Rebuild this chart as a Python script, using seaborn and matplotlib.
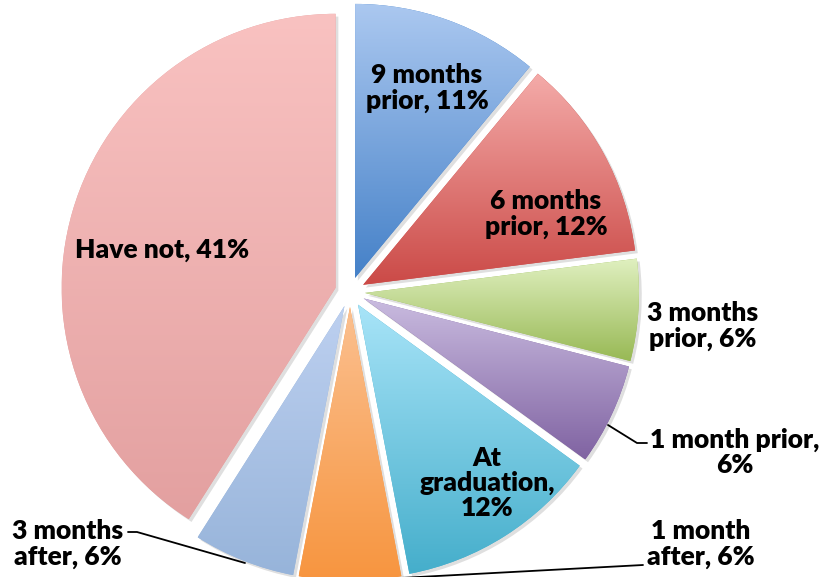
import numpy as np
import matplotlib
matplotlib.use("Agg")
import matplotlib.pyplot as plt
import matplotlib.patheffects as pe
import seaborn as sns

# slices, clockwise from 12 o'clock
categories = ["9 months prior", "6 months prior", "3 months prior", "1 month prior",
              "At graduation", "1 month after", "3 months after", "Have not"]
shares = [11, 12, 6, 6, 12, 6, 6, 41]
slice_labels = ["9 months\nprior, 11%", "6 months\nprior, 12%", "3 months\nprior, 6%",
                "1 month prior,\n6%", "At\ngraduation,\n12%", "1 month\nafter, 6%",
                "3 months\nafter, 6%", "Have not, 41%"]
top_colors = ["#abc8f0", "#f4aba9", "#e0f0c0", "#cabce0", "#a8e4f8", "#fbc090", "#bdd0f0", "#f9c2c1"]
bottom_colors = ["#4581c8", "#cb4a47", "#98b955", "#8063a2", "#45aecb", "#f7953f", "#97b4da", "#e3a0a0"]

sns.set_style("white")
plt.rcParams['font.family'] = ['Lato', 'DejaVu Sans']

W, H = 827, 577
fig = plt.figure(figsize=(W / 100, H / 100), dpi=100)
ax = fig.add_axes([0, 0, 1, 1])

# pie centre / radius in pixel units
cx, cy, R = 350, H - 292, 274
wedges, _ = ax.pie(shares, startangle=90, counterclock=False, center=(cx, cy), radius=R,
                   explode=[15] * len(shares), colors=bottom_colors,
                   wedgeprops=dict(linewidth=0))

# vertical gradient per slice, light at top
grad = np.linspace(0, 1, 256).reshape(-1, 1)
for w, top, bot in zip(wedges, top_colors, bottom_colors):
    w.set_path_effects([pe.SimplePatchShadow(offset=(2, -2), shadow_rgbFace='grey', alpha=0.25),
                        pe.Normal()])
    ext = w.get_path().get_extents()
    cmap = sns.blend_palette([bot, top], as_cmap=True)
    im = ax.imshow(grad, cmap=cmap, extent=(ext.x0, ext.x1, ext.y0, ext.y1),
                   origin='lower', aspect='auto', zorder=w.get_zorder() + 0.1)
    im.set_clip_path(w)

# label positions (pixels from top-left)
label_pos = [(427, 88), (546, 214), (703, 326), (735, 452),
             (487, 483), (701, 544), (68, 544), (162, 250)]
for txt, (x, y) in zip(slice_labels, label_pos):
    ax.text(x, H - y, txt, ha='center', va='center', fontsize=19, fontweight='heavy',
            color='black', linespacing=1.05, zorder=10)

# leader lines
ax.plot([608, 637, 647], [H - 425, H - 443, H - 443], color='black', lw=1.3, zorder=10)
ax.plot([400, 643], [H - 578, H - 565], color='black', lw=1.3, zorder=10)
ax.plot([128, 137, 245], [H - 532, H - 532, H - 563], color='black', lw=1.3, zorder=10)

ax.set_xlim(0, W)
ax.set_ylim(0, H)
ax.set_aspect('auto')
ax.axis('off')

plt.savefig('out.png', dpi=100)
